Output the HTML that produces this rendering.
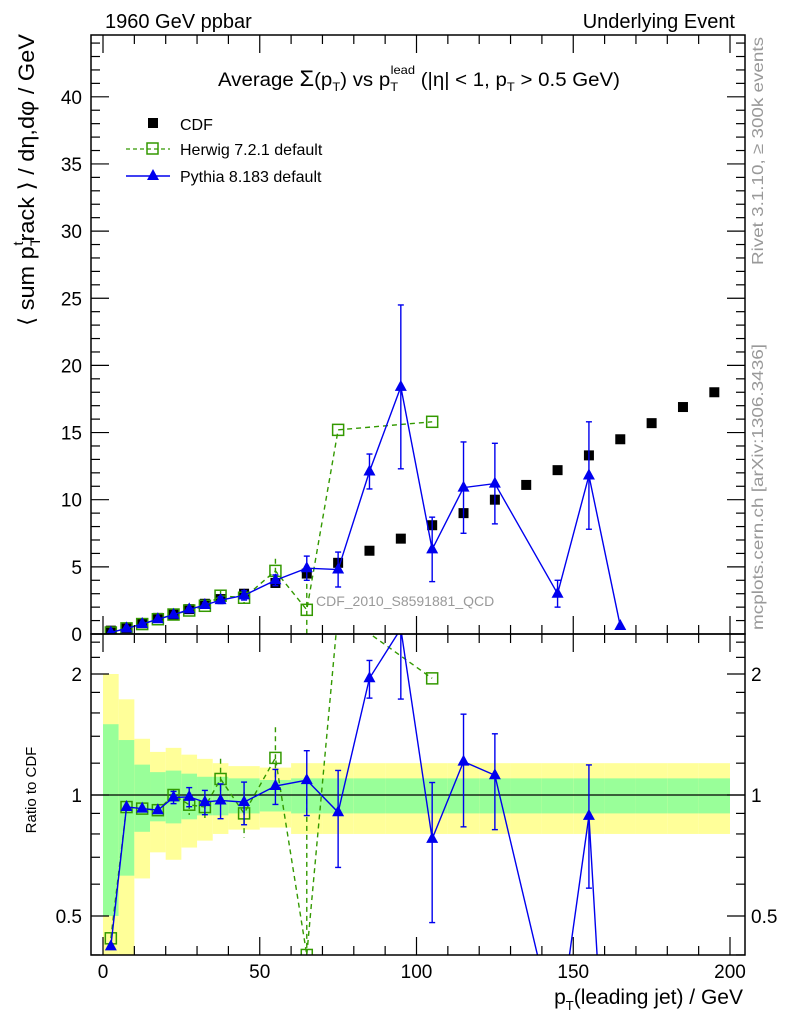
<!DOCTYPE html>
<html><head><meta charset="utf-8"><style>
html,body{margin:0;padding:0;background:#fff;overflow:hidden;width:786px;height:1024px;}
svg{display:block;font-family:"Liberation Sans",sans-serif;}
</style></head><body>
<svg id="chart" width="786" height="1024" viewBox="0 0 786 1024">
<defs>
<clipPath id="cm"><rect x="91" y="35" width="654" height="599"/></clipPath>
<clipPath id="cr"><rect x="91" y="634" width="654" height="321"/></clipPath>
</defs>
<g id="bands" clip-path="url(#cr)"></g>
<g id="main" clip-path="url(#cm)"></g>
<g id="ratio" clip-path="url(#cr)"></g>
<g id="axes"></g>
<text x="105" y="28" font-size="20">1960 GeV ppbar</text>
<text x="735" y="28" font-size="20" text-anchor="end">Underlying Event</text>
<text x="218" y="86" font-size="19" textLength="402" lengthAdjust="spacingAndGlyphs">Average <tspan font-size="22">Σ</tspan>(p<tspan font-size="12" dy="5">T</tspan><tspan dy="-5">) vs p</tspan><tspan font-size="12" dy="5">T</tspan><tspan font-size="12" dx="-7" dy="-17">lead</tspan><tspan dy="12"> (|η| &lt; 1, p</tspan><tspan font-size="12" dy="5">T</tspan><tspan dy="-5"> &gt; 0.5 GeV)</tspan></text>
<g>
<rect x="148" y="118" width="10" height="10" fill="#000"/>
<text x="180" y="130" font-size="16">CDF</text>
<line x1="126" y1="149" x2="170" y2="149" stroke="#339900" stroke-dasharray="4,3" stroke-width="1.3"/>
<rect x="147" y="143" width="11" height="11" fill="none" stroke="#339900" stroke-width="1.5"/>
<text x="180" y="155" font-size="16">Herwig 7.2.1 default</text>
<line x1="126" y1="176" x2="170" y2="176" stroke="#0000ee" stroke-width="1.5"/>
<polygon points="153,169 159,180 147,180" fill="#0000ee"/>
<text x="180" y="182" font-size="16">Pythia 8.183 default</text>
</g>
<text x="316" y="606" font-size="14" fill="#999">CDF_2010_S8591881_QCD</text>
<text transform="translate(763,265) rotate(-90)" font-size="16" fill="#999" textLength="228" lengthAdjust="spacingAndGlyphs">Rivet 3.1.10, ≥ 300k events</text>
<text transform="translate(763,630) rotate(-90)" font-size="16" fill="#999" textLength="286" lengthAdjust="spacingAndGlyphs">mcplots.cern.ch [arXiv:1306.3436]</text>
<text transform="translate(34,326) rotate(-90)" font-size="22" textLength="292" lengthAdjust="spacingAndGlyphs">⟨ sum p<tspan font-size="14" dy="6">T</tspan><tspan font-size="14" dx="-8" dy="-17">t</tspan><tspan dy="11">rack ⟩ / dη,dφ / GeV</tspan></text>
<text transform="translate(36,790) rotate(-90)" font-size="15" text-anchor="middle">Ratio to CDF</text>
<text x="743" y="1004" font-size="21" text-anchor="end">p<tspan font-size="13" dy="6">T</tspan><tspan dy="-6">(leading jet) / GeV</tspan></text>
</svg>
<script>
const xCenters=[2.5,7.5,12.5,17.5,22.5,27.5,32.5,37.5,45,55,65,75,85,95,105,115,125,135,145,155,165,175,185,195];
const binEdges=[0,5,10,15,20,25,30,35,40,50,60,70,80,90,100,110,120,130,140,150,160,170,180,190,200];
const cdfValues=[0.25,0.45,0.8,1.2,1.45,1.85,2.25,2.6,3.0,3.8,4.5,5.3,6.2,7.1,8.1,9.0,10.0,11.1,12.2,13.3,14.5,15.7,16.9,18.0];
const statErr=[0.5,0.37,0.19,0.14,0.15,0.13,0.11,0.11,0.1,0.09,0.1,0.1,0.1,0.1,0.1,0.1,0.1,0.1,0.1,0.1,0.1,0.1,0.1,0.1];
const totErr=[1.0,0.73,0.38,0.28,0.31,0.26,0.23,0.2,0.18,0.17,0.2,0.2,0.2,0.2,0.2,0.2,0.2,0.2,0.2,0.2,0.2,0.2,0.2,0.2];
const herX=[2.5,7.5,12.5,17.5,22.5,27.5,32.5,37.5,45,55,65,75,105];
const herY=[0.11,0.42,0.74,1.1,1.45,1.75,2.1,2.85,2.7,4.7,1.8,15.2,15.8];
const herErr=[0,0,0,0,0.05,0.1,0.15,0.35,0.35,0.9,2.6,0,0];
const pyX=[2.5,7.5,12.5,17.5,22.5,27.5,32.5,37.5,45,55,65,75,85,95,105,115,125,145,155,165];
const pyY=[0.105,0.42,0.74,1.1,1.43,1.83,2.16,2.52,2.88,4.0,4.9,4.8,12.1,18.4,6.3,10.9,11.2,3.0,11.8,0.6];
const pyErr=[0,0,0,0,0.05,0.1,0.15,0.25,0.35,0.4,0.9,1.3,1.3,6.1,2.4,3.4,3.0,1.0,4.0,0];
const mainTicks=[0,5,10,15,20,25,30,35,40];
const xTicks=[0,50,100,150,200];
const ratioTicks=[0.5,1,2];

const NS='http://www.w3.org/2000/svg';
const X=v=>103+v*3.135;
const Y=v=>634-v*13.43;
const R=r=>795-121*Math.log2(Math.max(r,1e-3));
function mk(tag,attrs,parent){const e=document.createElementNS(NS,tag);for(const k in attrs)e.setAttribute(k,attrs[k]);parent.appendChild(e);return e;}
const gB=document.getElementById('bands'),gM=document.getElementById('main'),gR=document.getElementById('ratio'),gA=document.getElementById('axes');
const cdfAt=x=>cdfValues[xCenters.indexOf(x)];

for(let i=0;i<cdfValues.length;i++){
 const x0=X(binEdges[i]),x1=X(binEdges[i+1]);
 let e=mk('rect',{x:x0,y:R(1+totErr[i]),width:x1-x0,height:R(Math.max(1-totErr[i],0.01))-R(1+totErr[i]),fill:'#ffff99'},gB);
 
 
 e=mk('rect',{x:x0,y:R(1+statErr[i]),width:x1-x0,height:R(1-statErr[i])-R(1+statErr[i]),fill:'#99ff99'},gB);
 
 
}
mk('line',{x1:91,x2:745,y1:R(1),y2:R(1),stroke:'#000','stroke-width':1.3},gB);

xCenters.forEach((x,i)=>{
 const e=mk('rect',{x:X(x)-5,y:Y(cdfValues[i])-5,width:10,height:10,fill:'#000'},gM);
 
 
});

function series(xs,ys,errs,color,dash,marker,gp,fy,name){
 const pts=xs.map((x,i)=>X(x)+','+fy(ys[i],x)).join(' ');
 const pl=mk('polyline',{points:pts,fill:'none',stroke:color,'stroke-width':1.4},gp);
 if(dash)pl.setAttribute('stroke-dasharray','5,4');
 
 
 xs.forEach((x,i)=>{
  const cx=X(x),cy=fy(ys[i],x);
  if(errs[i]>0){
   const y1=fy(ys[i]+errs[i],x),y2=fy(Math.max(ys[i]-errs[i],0.001),x);
   const l=mk('line',{x1:cx,x2:cx,y1:y1,y2:y2,stroke:color,'stroke-width':1.4},gp);
   if(dash)l.setAttribute('stroke-dasharray','5,4');
   if(!dash){mk('line',{x1:cx-3,x2:cx+3,y1:y1,y2:y1,stroke:color,'stroke-width':1.4},gp);mk('line',{x1:cx-3,x2:cx+3,y1:y2,y2:y2,stroke:color,'stroke-width':1.4},gp);}
  }
  let m;
  if(marker==='sq')m=mk('rect',{x:cx-5.5,y:cy-5.5,width:11,height:11,fill:'none',stroke:color,'stroke-width':1.5},gp);
  else m=mk('polygon',{points:`${cx},${cy-7} ${cx+6},${cy+4} ${cx-6},${cy+4}`,fill:color},gp);
  
  
 });
}
series(herX,herY,herErr,'#339900',true,'sq',gM,(v)=>Y(v),'herwig');
series(pyX,pyY,pyErr,'#0000ee',false,'tri',gM,(v)=>Y(v),'pythia');
series(herX,herY,herErr,'#339900',true,'sq',gR,(v,x)=>R(v/cdfAt(x)),'herwig-ratio');
series(pyX,pyY,pyErr,'#0000ee',false,'tri',gR,(v,x)=>R(v/cdfAt(x)),'pythia-ratio');

let f=mk('rect',{x:91,y:35,width:654,height:599,fill:'none',stroke:'#000','stroke-width':1.5},gA);


f=mk('rect',{x:91,y:634,width:654,height:321,fill:'none',stroke:'#000','stroke-width':1.5},gA);


function tick(x1,y1,x2,y2){mk('line',{x1,y1,x2,y2,stroke:'#000','stroke-width':1.2},gA);}
for(let v=0;v<=200;v+=10){const x=X(v),L=(v%50===0)?18:9;
 tick(x,634,x,634-L);tick(x,35,x,35+L);tick(x,955,x,955-L);tick(x,634,x,634+L);}
xTicks.forEach(v=>{const t=mk('text',{x:X(v),y:978,'font-size':19,'text-anchor':'middle'},gA);t.textContent=v;
 
 });
for(let v=0;v<=44;v++){const y=Y(v),L=(v%5===0)?18:9;tick(91,y,91+L,y);tick(745,y,745-L,y);}
mainTicks.forEach(v=>{const t=mk('text',{x:82,y:Y(v)+7,'font-size':19,'text-anchor':'end'},gA);t.textContent=v;
 
 });
[0.4,0.6,0.7,0.8,0.9,1.2,1.4,1.6,1.8,2.2,2.4].forEach(v=>{const y=R(v);tick(91,y,100,y);tick(745,y,736,y);});
ratioTicks.forEach(v=>{const y=R(v);tick(91,y,109,y);tick(745,y,727,y);
 let t=mk('text',{x:82,y:y+7,'font-size':19,'text-anchor':'end'},gA);t.textContent=v;
 
 
 t=mk('text',{x:751,y:y+7,'font-size':19},gA);t.textContent=v;
 
 });
</script>
</body></html>
